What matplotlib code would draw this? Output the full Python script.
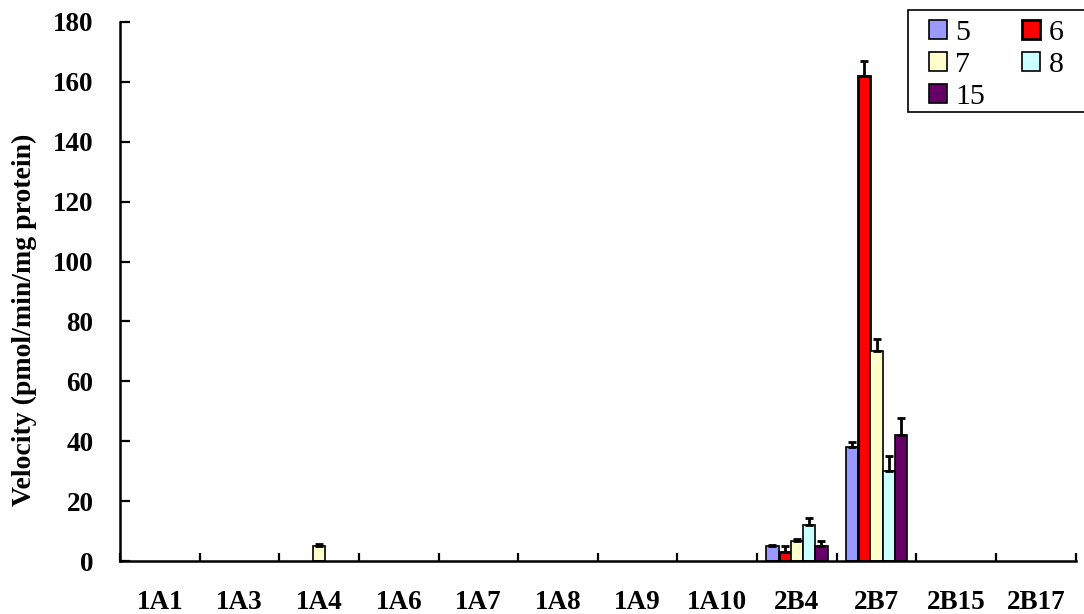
import numpy as np
import matplotlib
matplotlib.use("Agg")
import matplotlib.pyplot as plt
from matplotlib.patches import Rectangle

# Isoform panel on the x axis, substrate series in the legend
isoforms = ["1A1", "1A3", "1A4", "1A6", "1A7", "1A8", "1A9", "1A10",
            "2B4", "2B7", "2B15", "2B17"]
series_names = ["5", "6", "7", "8", "15"]
series_colors = ["#9999FF", "#FF0000", "#FFFFCC", "#CCFFFF", "#660066"]
series_edge_widths = [1.2, 2.0, 1.2, 1.2, 1.2]

# Velocity (pmol/min/mg protein), one list per substrate
vel_5 = [0, 0, 0, 0, 0, 0, 0, 0, 5.0, 38.2, 0, 0]
vel_6 = [0, 0, 0, 0, 0, 0, 0, 0, 3.1, 162.0, 0, 0]
vel_7 = [0, 0, 5.0, 0, 0, 0, 0, 0, 6.7, 70.0, 0, 0]
vel_8 = [0, 0, 0, 0, 0, 0, 0, 0, 12.0, 30.0, 0, 0]
vel_15 = [0, 0, 0, 0, 0, 0, 0, 0, 5.0, 42.0, 0, 0]

# Standard deviations (upper error bars only)
sd_5 = [0, 0, 0, 0, 0, 0, 0, 0, 0.3, 1.7, 0, 0]
sd_6 = [0, 0, 0, 0, 0, 0, 0, 0, 1.8, 5.0, 0, 0]
sd_7 = [0, 0, 0.8, 0, 0, 0, 0, 0, 0.8, 4.0, 0, 0]
sd_8 = [0, 0, 0, 0, 0, 0, 0, 0, 2.2, 5.0, 0, 0]
sd_15 = [0, 0, 0, 0, 0, 0, 0, 0, 1.6, 5.7, 0, 0]

values = [vel_5, vel_6, vel_7, vel_8, vel_15]
errors = [sd_5, sd_6, sd_7, sd_8, sd_15]

serif = ["Liberation Serif", "DejaVu Serif"]

W, H = 1084, 614
fig = plt.figure(figsize=(W / 100, H / 100), dpi=100)
ax = fig.add_axes([0.1107, 0.0863, 0.9923 - 0.1107, 0.9642 - 0.0863])

x = np.arange(len(isoforms))
bar_w = 0.154
offsets = (np.arange(len(series_names)) - 2) * bar_w

handles = []
for name, color, lw, vals, errs, off in zip(series_names, series_colors,
                                            series_edge_widths, values, errors, offsets):
    vals = np.asarray(vals, dtype=float)
    errs = np.asarray(errs, dtype=float)
    show = vals > 0
    bars = ax.bar(x[show] + off, vals[show], width=bar_w, color=color,
                  edgecolor="black", linewidth=lw, label=name, zorder=2)
    handles.append(bars)
    ax.errorbar(x[show] + off, vals[show],
                yerr=[np.zeros(show.sum()), errs[show]],
                fmt="none", ecolor="black", elinewidth=2.0,
                capsize=3, capthick=2.0, zorder=3)

ax.set_xlim(-0.5, len(isoforms) - 0.5)
ax.set_ylim(0, 180)
ax.set_yticks(np.arange(0, 181, 20))

# Category labels centred, tick marks on the category boundaries
ax.set_xticks(np.arange(len(isoforms) + 1) - 0.5)
ax.set_xticklabels([])
ax.set_xticks(x, minor=True)
ax.set_xticklabels(isoforms, minor=True, fontfamily=serif,
                   fontweight="bold", fontsize=19.5)
ax.tick_params(axis="x", which="major", direction="in", length=6, width=1.6)
ax.tick_params(axis="x", which="minor", length=0, pad=21)
ax.tick_params(axis="y", direction="in", length=7, width=1.6, pad=19)
for lab in ax.get_yticklabels():
    lab.set_fontfamily(serif)
    lab.set_fontweight("bold")
    lab.set_fontsize(19.5)

for side in ("top", "right"):
    ax.spines[side].set_visible(False)
for side in ("left", "bottom"):
    ax.spines[side].set_linewidth(1.8)

# Axis title, placed in figure pixels
fig.text(24 / W, 1 - 320 / H, "Velocity (pmol/min/mg protein)",
         rotation=90, ha="center", va="center", fontfamily=serif,
         fontweight="bold", fontsize=20)

# Legend frame runs off the right edge of the figure
fig.patches.append(Rectangle((908 / W, 1 - 112 / H), (1095 - 908) / W,
                             (112 - 10) / H, transform=fig.transFigure,
                             facecolor="white", edgecolor="black",
                             linewidth=1.2, zorder=5))

# Legend laid out row by row: 5 6 / 7 8 / 15
order = [0, 2, 4, 1, 3]
leg = fig.legend([handles[i] for i in order], [series_names[i] for i in order],
                 loc="upper left", bbox_to_anchor=(929 / W, 1 - 20 / H),
                 bbox_transform=fig.transFigure, ncol=2, frameon=False,
                 prop={"family": serif, "size": 21.5},
                 handlelength=0.6, handleheight=0.6, handletextpad=0.28,
                 columnspacing=1.25, labelspacing=0.2, borderpad=0,
                 borderaxespad=0)
leg.set_zorder(6)

fig.savefig("out.png", dpi=100)
